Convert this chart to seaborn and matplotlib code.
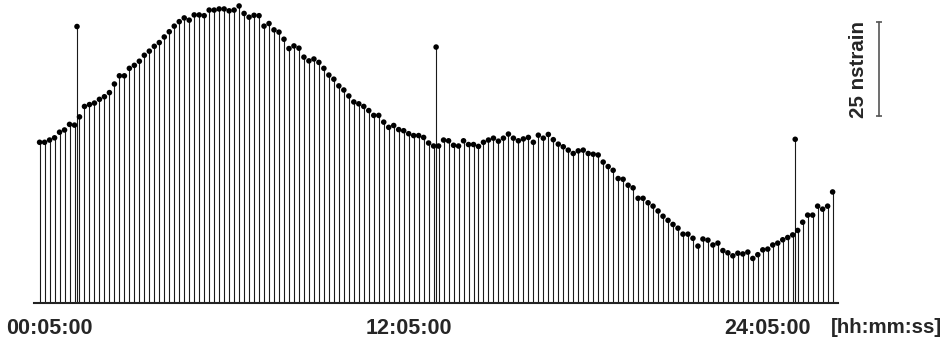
import numpy as np
import pandas as pd
import matplotlib
matplotlib.use("Agg")
import matplotlib.pyplot as plt
import seaborn as sns

# ---- data (strain, nstrain above baseline), one sample every 10 minutes ----
start_hour = -0.25          # 23:45 of the previous day
step_hours = 1.0 / 6.0      # 10 min
strain = [
    42.9, 42.9, 43.5, 44.1, 45.6, 46.2, 47.7, 47.5, 49.7, 52.5, 53.0, 53.4, 54.4, 55.1, 56.2, 58.5,
    60.7, 60.7, 62.7, 63.5, 64.6, 66.2, 67.3,
    68.6, 69.6, 71.1, 72.5, 74.0, 75.2, 76.2, 75.6, 77.0, 77.0, 76.8, 78.3, 78.3, 78.6, 78.6, 78.1,
    78.3, 79.4, 77.4, 76.4, 76.9, 76.8, 74.0, 74.7, 73.0, 72.4, 70.5, 68.0,
    68.7, 68.1, 65.7, 64.7, 65.2, 64.3, 62.7, 60.9, 59.8, 58.0, 56.9, 55.3, 53.7, 53.2, 52.5, 51.4,
    50.1, 50.1, 48.3, 46.9, 47.4, 46.3, 46.0, 45.2, 44.7, 44.7, 44.2, 42.7,
    41.9, 41.9, 43.5, 43.3, 42.1, 41.9, 43.3, 42.3, 42.3, 41.8, 42.9, 43.5, 44.0, 43.2, 44.0, 45.1,
    44.0, 43.3, 43.8, 44.2, 42.9, 44.8, 44.0, 45.0, 43.6, 42.4, 41.7, 40.8,
    39.9, 40.6, 40.8, 39.9, 39.7, 39.5, 37.6, 36.4, 35.4, 33.2, 33.0, 31.4, 30.7, 27.9, 27.9, 26.7,
    25.8, 24.5, 23.1, 22.0, 20.9, 19.9, 18.3, 18.3, 17.2, 15.1, 17.0,
    16.7, 15.4, 15.9, 13.9, 13.3, 12.5, 13.2, 13.0, 13.5, 11.8, 12.8, 14.1, 14.3, 15.4, 15.9, 16.8,
    17.4, 18.1, 19.3, 21.5, 23.4, 23.4, 25.8, 25.0, 25.8, 29.6,
]
marker_hours = [1.0, 13.0, 25.0]
marker_strain = [73.9, 68.4, 43.7]
tick_hours = [5 / 60, 12 + 5 / 60, 24 + 5 / 60]
tick_labels = ["00:05:00", "12:05:00", "24:05:00"]
unit_label = "[hh:mm:ss]"
scale_value = 25
scale_label = "25 nstrain"

hours = start_hour + np.arange(len(strain)) * step_hours
df = pd.DataFrame({"hour": np.concatenate([hours, marker_hours]),
                   "strain": np.concatenate([strain, marker_strain])})

# ---- figure ----
sns.set_style("white")
plt.rcParams["font.family"] = ["Liberation Sans", "DejaVu Sans"]
plt.rcParams["font.weight"] = "bold"

W, H = 949, 340
fig = plt.figure(figsize=(W / 100, H / 100), dpi=100)
ax = fig.add_axes([34.3 / W, 37.5 / H, (837.7 - 34.3) / W, 302.5 / H])

ax.vlines(df["hour"], 0, df["strain"], color="#1a1a1a", lw=0.8, zorder=2)
sns.scatterplot(data=df, x="hour", y="strain", ax=ax, color="black", s=16,
                edgecolor="none", linewidth=0, zorder=3, clip_on=False, legend=False)

ax.set_xlim(-0.427, 26.42)
ax.set_ylim(0, 81.0)
ax.set_xticks(tick_hours)
ax.set_xticklabels(tick_labels, fontsize=15.5, fontweight="bold")
tick_pad = 11
ax.tick_params(axis="x", length=0, pad=tick_pad)
ax.set_yticks([])
ax.set_xlabel("")
ax.set_ylabel("")
for s in ["top", "left", "right"]:
    ax.spines[s].set_visible(False)
ax.spines["bottom"].set_linewidth(1.5)
ax.spines["bottom"].set_color("#222222")

# unit label next to the last tick label
pad_px = tick_pad / 72 * 100
fig.text(886 / W, (37.5 - pad_px) / H, unit_label, ha="center", va="top",
         fontsize=14.8, fontweight="bold")

# scale bar
bar_x = 27.80
ax.plot([bar_x, bar_x], [50, 50 + scale_value], color="#555555", lw=1.2,
        marker="_", markersize=5, markeredgewidth=1.2, clip_on=False)
ax.text(27.1, 62.3, scale_label, rotation=90, ha="center", va="center",
        fontsize=14.8, fontweight="bold", clip_on=False)

fig.savefig("out.png", dpi=100)
